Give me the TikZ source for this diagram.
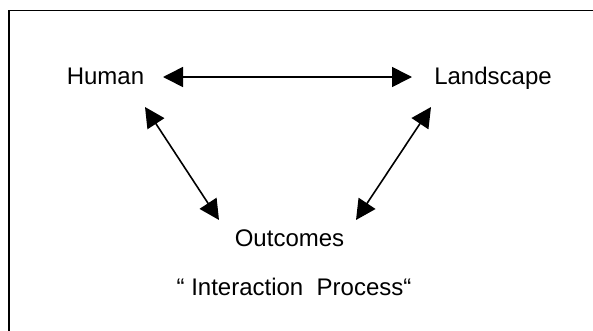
\documentclass[tikz,border=0pt]{standalone}
\usepackage{fontspec}
\setmainfont{Liberation Sans}
\usetikzlibrary{arrows.meta}
\tikzset{
  lbl/.style={font=\fontsize{24}{28}\selectfont, anchor=base, inner sep=0pt},
  link/.style={line width=1.6pt, {Triangle[length=20pt,width=20pt]}-{Triangle[length=20pt,width=20pt]}},
  frame/.style={line width=1.5pt}
}
\begin{document}
\begin{tikzpicture}[x=1pt,y=-1pt]
\useasboundingbox (0,0) rectangle (593,330);
\begin{scope}
\clip (0,0) rectangle (593,330);
\draw[frame] (9,10.5) rectangle (640,360);
\end{scope}
\node[lbl] (human) at (105.5,84) {Human};
\node[lbl] (land) at (493,84) {Landscape};
\node[lbl] (out) at (289.5,246) {Outcomes};
\node[lbl] (proc) at (294,295) {“ Interaction\ \ Process“};
\coordinate (hR) at (163,77);
\coordinate (lL) at (412,77);
\coordinate (hB) at (145,107);
\coordinate (oL) at (219,220);
\coordinate (lB) at (431,107);
\coordinate (oR) at (356,220);
\draw[link] (hR) -- (lL);
\draw[link] (hB) -- (oL);
\draw[link] (lB) -- (oR);
\end{tikzpicture}
\end{document}
